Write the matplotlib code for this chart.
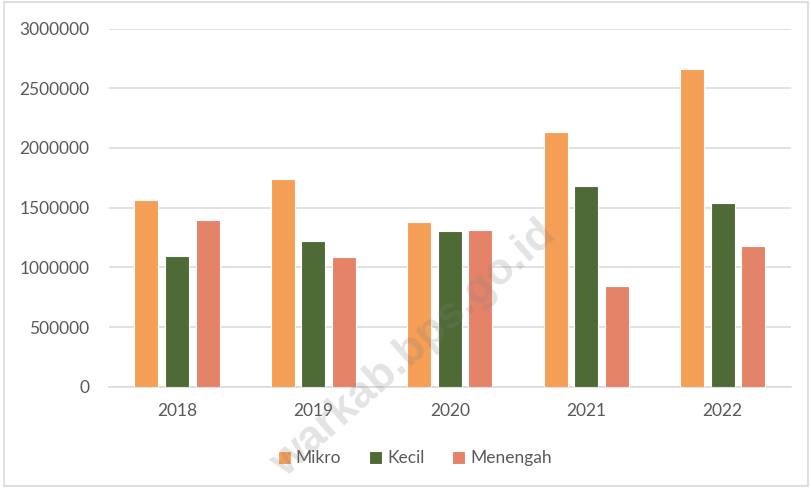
import matplotlib.pyplot as plt
import numpy as np
from matplotlib.patches import Rectangle

years = ["2018", "2019", "2020", "2021", "2022"]
mikro = [1566000, 1742000, 1381000, 2134000, 2664000]
kecil = [1099000, 1224000, 1303000, 1681000, 1543000]
menengah = [1396000, 1088000, 1314000, 842000, 1180000]
series_names = ["Mikro", "Kecil", "Menengah"]
colors = ["#F59E56", "#4E6A35", "#E58368"]
yticks = [0, 500000, 1000000, 1500000, 2000000, 2500000, 3000000]

plt.rcParams['font.family'] = ['Lato', 'DejaVu Sans']
txt = "#595959"

fig = plt.figure(figsize=(8.12, 4.88), dpi=100)
ax = fig.add_axes([0.134, 0.2076, 0.84, 0.7337])

x = np.arange(len(years))
w = 0.176
step = 0.224
for i, (vals, name, c) in enumerate(zip([mikro, kecil, menengah], series_names, colors)):
    ax.bar(x + (i - 1) * step, vals, width=w, color=c, edgecolor="white", linewidth=0.8, label=name, zorder=3)

ax.set_xlim(-0.5, len(years) - 0.5)
ax.set_ylim(0, 3000000)
ax.set_yticks(yticks)
ax.set_yticklabels([str(v) for v in yticks])
ax.set_xticks(x)
ax.set_xticklabels(years)
ax.tick_params(length=0, labelsize=12.5, colors=txt)
ax.tick_params(axis="y", pad=14)
ax.tick_params(axis="x", pad=12)
ax.grid(axis="y", color="#D9D9D9", linewidth=1.1, zorder=0)
for s in ["top", "right", "left"]:
    ax.spines[s].set_visible(False)
ax.spines["bottom"].set_color("#D9D9D9")
ax.spines["bottom"].set_linewidth(1.1)

leg = fig.legend(loc="center", bbox_to_anchor=(0.511, 0.061), ncol=3, frameon=False,
                 fontsize=12.5, handlelength=0.75, handleheight=0.75, handletextpad=0.3,
                 columnspacing=1.6)
for t in leg.get_texts():
    t.set_color(txt)

# chart border
fig.patches.append(Rectangle((0.005, 0.005), 0.99, 0.99, transform=fig.transFigure,
                             fill=False, edgecolor="#D9D9D9", linewidth=1.2))

# watermark
fig.text(0.51, 0.285, "warkab.bps.go.id", rotation=41.5, ha="center", va="center",
         fontsize=32, fontweight="bold", family="Liberation Sans", color="#808080",
         alpha=0.22, zorder=10)

fig.savefig("out.png", dpi=100)
